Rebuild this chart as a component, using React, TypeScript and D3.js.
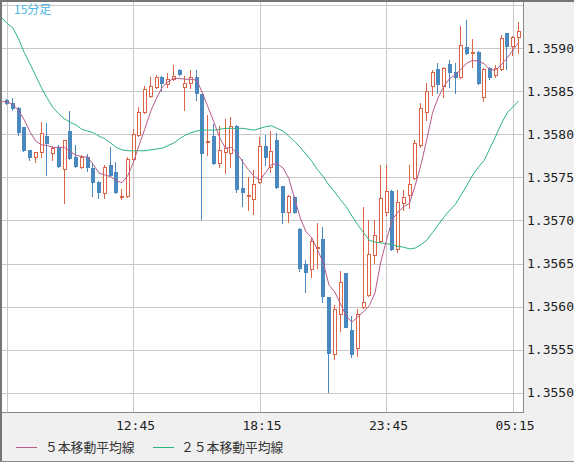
import React from 'react';
import * as d3 from 'd3';

const W = 574;
const H = 462;

// 15-minute bars, first bar 07:15
const opens = [1.35840,1.35836,1.35831,1.35809,1.35782,1.35774,1.35780,1.35798,1.35778,1.35785,
1.35760,1.35804,1.35774,1.35762,1.35774,1.35761,1.35745,1.35732,1.35765,1.35756,
1.35726,1.35728,1.35771,1.35799,1.35826,1.35845,1.35855,1.35867,1.35859,1.35864,
1.35875,1.35855,1.35860,1.35867,1.35847,1.35790,1.35798,1.35767,1.35780,1.35778,
1.35810,1.35738,1.35727,1.35725,1.35745,1.35787,1.35762,1.35794,1.35740,1.35710,
1.35727,1.35690,1.35649,1.35644,1.35667,1.35678,1.35611,1.35545,1.35591,1.35639,
1.35573,1.35552,1.35600,1.35613,1.35660,1.35676,1.35710,1.35734,1.35667,1.35720,
1.35730,1.35749,1.35788,1.35826,1.35856,1.35876,1.35856,1.35882,1.35872,1.35867,
1.35902,1.35893,1.35896,1.35843,1.35877,1.35869,1.35876,1.35918,1.35903,1.35913];
const highs = [1.35841,1.35842,1.35832,1.35809,1.35782,1.35780,1.35814,1.35813,1.35787,1.35788,
1.35794,1.35827,1.35788,1.35776,1.35777,1.35767,1.35746,1.35765,1.35785,1.35768,
1.35737,1.35774,1.35806,1.35832,1.35856,1.35867,1.35869,1.35868,1.35871,1.35881,
1.35876,1.35868,1.35875,1.35875,1.35847,1.35823,1.35812,1.35810,1.35818,1.35820,
1.35811,1.35771,1.35751,1.35759,1.35797,1.35799,1.35804,1.35802,1.35740,1.35730,
1.35728,1.35691,1.35654,1.35680,1.35697,1.35692,1.35611,1.35602,1.35641,1.35639,
1.35589,1.35597,1.35716,1.35700,1.35700,1.35765,1.35765,1.35735,1.35735,1.35735,
1.35765,1.35794,1.35836,1.35860,1.35875,1.35883,1.35878,1.35886,1.35883,1.35926,
1.35933,1.35911,1.35897,1.35877,1.35878,1.35881,1.35915,1.35918,1.35914,1.35931];
const lows = [1.35835,1.35828,1.35799,1.35781,1.35770,1.35768,1.35774,1.35753,1.35770,1.35762,
1.35720,1.35771,1.35762,1.35761,1.35758,1.35729,1.35726,1.35726,1.35752,1.35732,
1.35725,1.35727,1.35770,1.35798,1.35825,1.35843,1.35854,1.35850,1.35855,1.35863,
1.35869,1.35828,1.35854,1.35840,1.35702,1.35776,1.35766,1.35762,1.35755,1.35762,
1.35733,1.35717,1.35712,1.35708,1.35744,1.35765,1.35756,1.35738,1.35697,1.35698,
1.35709,1.35641,1.35617,1.35634,1.35645,1.35605,1.35501,1.35539,1.35572,1.35576,
1.35541,1.35543,1.35598,1.35612,1.35651,1.35675,1.35706,1.35666,1.35663,1.35712,
1.35715,1.35748,1.35785,1.35817,1.35846,1.35848,1.35843,1.35855,1.35848,1.35866,
1.35893,1.35878,1.35859,1.35839,1.35864,1.35867,1.35875,1.35876,1.35892,1.35895];
const closes = [1.35836,1.35831,1.35803,1.35782,1.35774,1.35780,1.35802,1.35790,1.35784,1.35763,
1.35794,1.35773,1.35763,1.35774,1.35762,1.35745,1.35733,1.35762,1.35753,1.35733,
1.35728,1.35771,1.35800,1.35826,1.35853,1.35856,1.35867,1.35860,1.35864,1.35868,
1.35870,1.35860,1.35867,1.35848,1.35778,1.35792,1.35767,1.35782,1.35784,1.35810,
1.35737,1.35733,1.35730,1.35742,1.35787,1.35774,1.35781,1.35739,1.35710,1.35728,
1.35710,1.35645,1.35640,1.35676,1.35669,1.35612,1.35546,1.35597,1.35629,1.35576,
1.35545,1.35591,1.35605,1.35661,1.35683,1.35726,1.35734,1.35667,1.35721,1.35727,
1.35742,1.35790,1.35831,1.35850,1.35872,1.35859,1.35877,1.35872,1.35867,1.35904,
1.35895,1.35896,1.35860,1.35876,1.35867,1.35877,1.35912,1.35903,1.35913,1.35920];

// moving averages as drawn (value before the first visible bar, then one per bar)
const ma5Prev = 1.35838;
const ma5 = [1.35838,1.35835,1.35828,1.35817,1.35803,1.35792,1.35788,1.35787,1.35785,1.35785,
1.35785,1.35780,1.35776,1.35774,1.35774,1.35765,1.35755,1.35753,1.35751,1.35746,
1.35744,1.35752,1.35768,1.35788,1.35807,1.35827,1.35842,1.35855,1.35861,1.35865,
1.35865,1.35864,1.35864,1.35863,1.35848,1.35831,1.35814,1.35796,1.35784,1.35785,
1.35778,1.35768,1.35759,1.35751,1.35747,1.35756,1.35765,1.35766,1.35761,1.35749,
1.35726,1.35703,1.35687,1.35680,1.35666,1.35651,1.35625,1.35617,1.35603,1.35589,
1.35582,1.35588,1.35594,1.35601,1.35616,1.35652,1.35677,1.35701,1.35710,1.35716,
1.35720,1.35741,1.35765,1.35794,1.35825,1.35843,1.35856,1.35865,1.35869,1.35876,
1.35883,1.35886,1.35885,1.35882,1.35875,1.35875,1.35881,1.35889,1.35898,1.35907];
const ma25Prev = 1.35936;
const ma25 = [1.35929,1.35924,1.35911,1.35895,1.35882,1.35868,1.35854,1.35842,1.35831,1.35824,
1.35818,1.35814,1.35811,1.35806,1.35804,1.35802,1.35798,1.35795,1.35790,1.35785,
1.35782,1.35781,1.35781,1.35781,1.35781,1.35782,1.35783,1.35784,1.35787,1.35790,
1.35795,1.35799,1.35802,1.35804,1.35805,1.35805,1.35805,1.35806,1.35807,1.35807,
1.35807,1.35807,1.35806,1.35805,1.35807,1.35809,1.35810,1.35807,1.35804,1.35798,
1.35792,1.35785,1.35777,1.35769,1.35759,1.35751,1.35741,1.35733,1.35724,1.35716,
1.35705,1.35695,1.35686,1.35677,1.35675,1.35674,1.35673,1.35672,1.35670,1.35669,
1.35667,1.35668,1.35672,1.35677,1.35686,1.35695,1.35704,1.35712,1.35719,1.35730,
1.35741,1.35753,1.35762,1.35770,1.35784,1.35798,1.35813,1.35825,1.35832,1.35839];

const xGridIndex = [0, 22, 44, 66, 88];
const xTickLabels = ['', '12:45', '18:15', '23:45', '05:15'];
const yTicks = [1.3550, 1.3555, 1.3560, 1.3565, 1.3570, 1.3575, 1.3580, 1.3585, 1.3590, 1.3595];
const yTickLabels = ['1.3550', '1.3555', '1.3560', '1.3565', '1.3570', '1.3575', '1.3580', '1.3585', '1.3590', ''];
const title = '15分足';
const legendLabels = ['５本移動平均線', '２５本移動平均線'];

const UP = '#dc6446';
const DOWN = '#4a89c0';
const MA5C = '#b95a8c';
const MA25C = '#2db478';
const GRID = '#c8c8c8';
const FRAME = '#757575';

const PL = 2, PT = 2, PR = 523, PB = 412;

export default function App() {
  const x = d3.scaleLinear().domain([0, 88]).range([7, 513]);
  const y = d3.scaleLinear().domain([1.3550, 1.3595]).range([392.7, 5.25]);

  const line = d3.line<[number, number]>()
    .x(d => x(d[0]))
    .y(d => y(d[1]));
  const ma5Pts: [number, number][] = [[-1, ma5Prev], ...ma5.map((v, i) => [i, v] as [number, number])];
  const ma25Pts: [number, number][] = [[-1, ma25Prev], ...ma25.map((v, i) => [i, v] as [number, number])];

  const mono = "'DejaVu Sans Mono', monospace";
  const cjk = "'Noto Sans CJK JP', 'Noto Sans', sans-serif";

  return (
    <svg width={W} height={H} style={{ position: 'absolute', left: 0, top: 0, display: 'block' }}>
      <rect x={0} y={0} width={W} height={H} fill="#f0f0f0" />
      <rect x={PL} y={PT} width={PR - PL} height={PB - PT} fill="#ffffff" />
      <defs>
        <clipPath id="plotclip">
          <rect x={PL} y={PT} width={PR - PL} height={PB - PT} />
        </clipPath>
      </defs>
      <g clipPath="url(#plotclip)">
        {yTicks.map((v, i) => {
          const yy = Math.round(y(v)) + 0.5;
          return <line key={'hg' + i} x1={PL} x2={PR} y1={yy} y2={yy} stroke={GRID} strokeWidth={1} />;
        })}
        {xGridIndex.map((idx, i) => {
          const xx = Math.floor(x(idx)) + 0.5;
          return <line key={'vg' + i} x1={xx} x2={xx} y1={PT} y2={PB} stroke={GRID} strokeWidth={1} />;
        })}
        {opens.map((o, i) => {
          const c = closes[i];
          const cx = Math.round(x(i));
          const up = c >= o;
          const col = up ? UP : DOWN;
          const yHi = Math.round(y(highs[i]));
          const yLo = Math.round(y(lows[i]));
          const yTop = Math.round(y(Math.max(o, c)));
          const yBot = Math.round(y(Math.min(o, c)));
          const bh = Math.max(1, yBot - yTop);
          return (
            <g key={'c' + i}>
              <line x1={cx - 0.5} x2={cx - 0.5} y1={yHi} y2={yLo + 1} stroke={col} strokeWidth={1} />
              {up ? (
                bh <= 2 ? (
                  <rect x={cx - 2} y={yTop} width={4} height={2} fill={col} />
                ) : (
                  <rect x={cx - 1.5} y={yTop + 0.5} width={3} height={bh} fill="#ffffff" stroke={col} strokeWidth={1} />
                )
              ) : (
                <rect x={cx - 2} y={yTop} width={4} height={bh + 1} fill={col} />
              )}
            </g>
          );
        })}
        <path d={line(ma25Pts) || ''} fill="none" stroke={MA25C} strokeWidth={1} />
        <path d={line(ma5Pts) || ''} fill="none" stroke={MA5C} strokeWidth={1} />
      </g>

      {/* frame */}
      <line x1={PR + 0.5} x2={PR + 0.5} y1={0} y2={PB + 1} stroke="#8a8a8a" strokeWidth={1} />
      <line x1={0} x2={PR + 1} y1={PB + 0.5} y2={PB + 0.5} stroke="#8a8a8a" strokeWidth={1} />
      <rect x={0} y={0} width={W} height={2} fill={FRAME} />
      <rect x={0} y={0} width={2} height={H} fill={FRAME} />
      <line x1={0} x2={W} y1={H - 0.5} y2={H - 0.5} stroke="#8a8a8a" strokeWidth={1} />

      {/* y axis labels */}
      {yTicks.map((v, i) => (
        <text key={'yl' + i} x={527} y={y(v)} dy="0.36em" fontFamily={mono} fontSize={13} fill="#222">
          {yTickLabels[i]}
        </text>
      ))}
      {/* x axis labels */}
      {xGridIndex.map((idx, i) => (
        <text key={'xl' + i} x={x(idx) + 2} y={425} dy="0.36em" textAnchor="middle" fontFamily={mono} fontSize={13} fill="#222">
          {xTickLabels[i]}
        </text>
      ))}

      {/* title */}
      <text x={14} y={10} dy="0.36em" fontFamily={cjk} fontSize={12} fill="#4db6e8">{title}</text>

      {/* legend */}
      <line x1={16} x2={37} y1={447.5} y2={447.5} stroke={MA5C} strokeWidth={1} />
      <text x={45} y={447} dy="0.36em" fontFamily={cjk} fontSize={12.8} fill="#333">{legendLabels[0]}</text>
      <line x1={153} x2={174} y1={447.5} y2={447.5} stroke={MA25C} strokeWidth={1} />
      <text x={181} y={447} dy="0.36em" fontFamily={cjk} fontSize={12.8} fill="#333">{legendLabels[1]}</text>
    </svg>
  );
}
